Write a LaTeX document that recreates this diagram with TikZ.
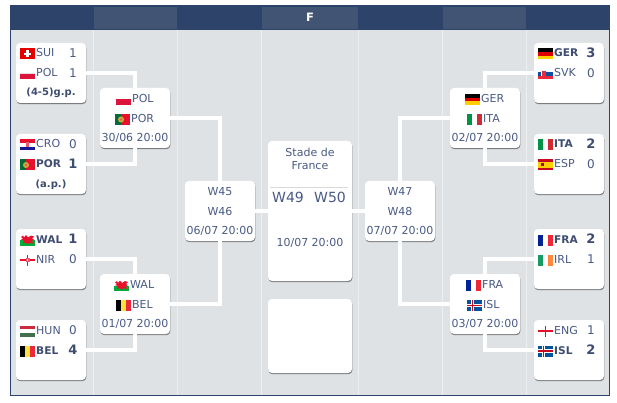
\documentclass[tikz,border=0pt]{standalone}
\usepackage{fontspec}
\setmainfont{DejaVu Sans}
\usetikzlibrary{shadows}
\definecolor{hdark}{HTML}{2E4369}
\definecolor{hlight}{HTML}{415474}
\definecolor{bodybg}{HTML}{DFE2E5}
\definecolor{sepc}{HTML}{EDEFF0}
\definecolor{txtc}{HTML}{4A5A85}
\definecolor{boldc}{HTML}{3F4C72}
\tikzset{
  x=1pt,y=-1pt,
  card/.style={rectangle,fill=white,rounded corners=4pt,inner sep=0pt,outer sep=0pt,
    minimum width=70pt,minimum height=60pt,
    drop shadow={shadow xshift=0.4pt,shadow yshift=-1.2pt,opacity=.45,fill=black}},
  link/.style={draw=white,line width=4.3pt},
  teamtxt/.style={anchor=base west,inner sep=0pt,text=txtc,font=\fontsize{11}{13}\selectfont},
  teambold/.style={anchor=base west,inner sep=0pt,text=boldc,font=\fontsize{10.6}{13}\selectfont\bfseries},
  scoretxt/.style={anchor=base,inner sep=0pt,text=txtc,font=\fontsize{12}{14}\selectfont},
  scorebold/.style={anchor=base,inner sep=0pt,text=boldc,font=\fontsize{13}{14}\selectfont\bfseries},
  infotxt/.style={anchor=base,inner sep=0pt,text=txtc,font=\fontsize{11}{13}\selectfont},
  notetxt/.style={anchor=base,inner sep=0pt,text=boldc,font=\fontsize{10}{13}\selectfont\bfseries},
  bigtxt/.style={anchor=base,inner sep=0pt,text=txtc,font=\fontsize{14}{16}\selectfont},
}
% flags: top-left origin, 15 x 11
\newcommand\tribandH[3]{\fill[#1](0,0)rectangle(15,3.67);\fill[#2](0,3.67)rectangle(15,7.33);\fill[#3](0,7.33)rectangle(15,11);}
\newcommand\tribandV[3]{\fill[#1](0,0)rectangle(5,11);\fill[#2](5,0)rectangle(10,11);\fill[#3](10,0)rectangle(15,11);}
\newcommand\fSUI{\fill[red!90!black](0,0)rectangle(15,11);\fill[white](6.2,2)rectangle(8.8,9);\fill[white](4,4.2)rectangle(11,6.8);}
\newcommand\fPOL{\fill[white](0,0)rectangle(15,5.5);\fill[black!12](0,5)rectangle(15,5.5);\fill[HTMLpol](0,5.5)rectangle(15,11);}
\newcommand\fCRO{\tribandH{HTMLred}{white}{HTMLnavy}\fill[HTMLred!70!white](6,3)rectangle(9,7.5);}
\newcommand\fPOR{\fill[HTMLpg](0,0)rectangle(6,11);\fill[HTMLred](6,0)rectangle(15,11);\fill[HTMLyel!80!black](6,5.5)circle(3);\fill[HTMLred!70!white](6,5.5)circle(1.5);}
\newcommand\fWAL{\fill[white](0,0)rectangle(15,5.5);\fill[HTMLwg](0,5.5)rectangle(15,11);
  \fill[HTMLred](1,2.5)--(3,1)--(4,3)--(6,0.5)--(8,3)--(11,1)--(14,2)--(12,4)--(14,5)--(12,6)--(13,9)--(10,8)--(8,9.5)--(5,8)--(3,9)--(4,6)--(1,5)--(3,4)--cycle;}
\newcommand\fNIR{\fill[white](0,0)rectangle(15,11);\fill[HTMLred](0,4.8)rectangle(15,6.2);\fill[HTMLred](6.8,0)rectangle(8.2,11);\fill[HTMLred!70!white](5.5,3.5)rectangle(9.5,7.5);\fill[white](6.6,4.8)rectangle(8.4,6.2);}
\newcommand\fHUN{\tribandH{HTMLhr}{white}{HTMLhg}}
\newcommand\fBEL{\tribandV{black}{HTMLyel}{HTMLbr}}
\newcommand\fGER{\tribandH{black}{HTMLgr}{HTMLgy}}
\newcommand\fSVK{\tribandH{white}{HTMLsb}{HTMLbr}\fill[white](2.8,2.5)rectangle(8.2,8);\fill[HTMLbr](3.5,3)rectangle(7.5,7.5);}
\newcommand\fITA{\tribandV{HTMLig}{white}{HTMLir}}
\newcommand\fESP{\fill[HTMLer](0,0)rectangle(15,11);\fill[HTMLgy](0,2.75)rectangle(15,8.25);\fill[HTMLer!80!black](3,4)rectangle(6,7);}
\newcommand\fFRA{\tribandV{HTMLfb}{white}{HTMLbr}}
\newcommand\fIRL{\tribandV{HTMLirg}{white}{HTMLiro}}
\newcommand\fENG{\fill[white](0,0)rectangle(15,11);\fill[HTMLred](0,4.6)rectangle(15,6.4);\fill[HTMLred](6.6,0)rectangle(8.4,11);}
\newcommand\fISL{\fill[HTMLib](0,0)rectangle(15,11);\fill[white](0,3.8)rectangle(15,7.2);\fill[white](4,0)rectangle(7.4,11);\fill[HTMLer](0,4.8)rectangle(15,6.2);\fill[HTMLer](5,0)rectangle(6.4,11);}
\definecolor{HTMLpol}{HTML}{DC143C}
\definecolor{HTMLred}{HTML}{E8112D}
\definecolor{HTMLnavy}{HTML}{171796}
\definecolor{HTMLpg}{HTML}{046A38}
\definecolor{HTMLyel}{HTML}{FAE042}
\definecolor{HTMLwg}{HTML}{00AB39}
\definecolor{HTMLhr}{HTML}{CD2A3E}
\definecolor{HTMLhg}{HTML}{436F4D}
\definecolor{HTMLbr}{HTML}{ED2939}
\definecolor{HTMLgr}{HTML}{DD0000}
\definecolor{HTMLgy}{HTML}{FFCE00}
\definecolor{HTMLsb}{HTML}{0B4EA2}
\definecolor{HTMLig}{HTML}{009246}
\definecolor{HTMLir}{HTML}{CE2B37}
\definecolor{HTMLer}{HTML}{C60B1E}
\definecolor{HTMLfb}{HTML}{002395}
\definecolor{HTMLirg}{HTML}{169B62}
\definecolor{HTMLiro}{HTML}{FF883E}
\definecolor{HTMLib}{HTML}{02529C}
% #1 flag macro, #2 flag x, #3 flag y
\newcommand\putflag[3]{\begin{scope}[shift={(#2,#3)}]#1\end{scope}}
% entrant row: #1 node name, #2 flag, #3 box left, #4 row top (box top or +20), #5 style, #6 label, #7 score style, #8 score
\newcommand\entrant[8]{\putflag{#2}{#3+4}{#4+5.5}
  \node[#5] (#1) at (#3+20,#4+14) {#6};
  \node[#7] (#1s) at (#3+57,#4+14.5) {#8};}
% round-two row: #1 node, #2 flag, #3 flag x, #4 row top, #5 label
\newcommand\qrow[5]{\putflag{#2}{#3}{#4+6}
  \node[teamtxt] (#1) at (#3+16,#4+14.5) {#5};}
\begin{document}
\begin{tikzpicture}
\useasboundingbox (0,0) rectangle (617,403);
\fill[white] (0,0) rectangle (617,403);
\fill[bodybg] (10.5,6) rectangle (609.5,395);
\fill[hdark] (10.5,6) rectangle (609.5,30);
\foreach \a/\b in {94/177,262/358,443/526}{\fill[hlight] (\a,7) rectangle (\b,29);}
\foreach \a in {93.5,177.5,261.5,358.5,442.5,526.5}{\draw[sepc,line width=.8pt] (\a,30) -- (\a,395);}
\draw[hdark,line width=1pt] (10.5,6) rectangle (609.5,395);
\node[inner sep=0pt,text=white,font=\fontsize{11.5}{13}\selectfont\bfseries] (hdr) at (310,17) {F};

% cards
\node[card] (m1) at (51,73) {};
\node[card] (m2) at (51,164) {};
\node[card] (m3) at (51,259) {};
\node[card] (m4) at (51,350) {};
\node[card] (q1) at (135,118) {};
\node[card] (q2) at (135,304) {};
\node[card] (s1) at (220,211) {};
\node[card,minimum width=84pt,minimum height=140pt] (fin) at (310,211) {};
\node[card,minimum width=84pt,minimum height=74pt] (third) at (310,336) {};
\node[card] (s2) at (400,211) {};
\node[card] (q3) at (485,118) {};
\node[card] (q4) at (485,304) {};
\node[card] (m5) at (569,73) {};
\node[card] (m6) at (569,164) {};
\node[card] (m7) at (569,259) {};
\node[card] (m8) at (569,350) {};

% connectors
\draw[link] (m1.east) -| (q1.north);
\draw[link] (m2.east) -| (q1.south);
\draw[link] (m3.east) -| (q2.north);
\draw[link] (m4.east) -| (q2.south);
\draw[link] (q1.east) -| (s1.north);
\draw[link] (q2.east) -| (s1.south);
\draw[link] (s1.east) -- (fin.west);
\draw[link] (s2.west) -- (fin.east);
\draw[link] (q3.west) -| (s2.north);
\draw[link] (q4.west) -| (s2.south);
\draw[link] (m5.west) -| (q3.north);
\draw[link] (m6.west) -| (q3.south);
\draw[link] (m7.west) -| (q4.north);
\draw[link] (m8.west) -| (q4.south);

% left round one
\entrant{sui}{\fSUI}{16}{43}{teamtxt}{SUI}{scoretxt}{1}
\entrant{pol}{\fPOL}{16}{63}{teamtxt}{POL}{scoretxt}{1}
\node[notetxt] (n1) at (51,96) {(4-5)g.p.};
\entrant{cro}{\fCRO}{16}{134}{teamtxt}{CRO}{scoretxt}{0}
\entrant{por}{\fPOR}{16}{154}{teambold}{POR}{scorebold}{1}
\node[notetxt] (n2) at (51,187) {(a.p.)};
\entrant{wal}{\fWAL}{16}{229}{teambold}{WAL}{scorebold}{1}
\entrant{nir}{\fNIR}{16}{249}{teamtxt}{NIR}{scoretxt}{0}
\entrant{hun}{\fHUN}{16}{320}{teamtxt}{HUN}{scoretxt}{0}
\entrant{bel}{\fBEL}{16}{340}{teambold}{BEL}{scorebold}{4}
% right round one
\entrant{ger}{\fGER}{534}{43}{teambold}{GER}{scorebold}{3}
\entrant{svk}{\fSVK}{534}{63}{teamtxt}{SVK}{scoretxt}{0}
\entrant{ita}{\fITA}{534}{134}{teambold}{ITA}{scorebold}{2}
\entrant{esp}{\fESP}{534}{154}{teamtxt}{ESP}{scoretxt}{0}
\entrant{fra}{\fFRA}{534}{229}{teambold}{FRA}{scorebold}{2}
\entrant{irl}{\fIRL}{534}{249}{teamtxt}{IRL}{scoretxt}{1}
\entrant{eng}{\fENG}{534}{320}{teamtxt}{ENG}{scoretxt}{1}
\entrant{isl}{\fISL}{534}{340}{teambold}{ISL}{scorebold}{2}
% second round
\qrow{qa}{\fPOL}{116}{88}{POL}
\qrow{qb}{\fPOR}{115}{108}{POR}
\node[infotxt] (qd1) at (135,141.5) {30/06 20:00};
\qrow{qc}{\fWAL}{114}{274}{WAL}
\qrow{qd}{\fBEL}{116}{294}{BEL}
\node[infotxt] (qd2) at (135,327.5) {01/07 20:00};
\qrow{qe}{\fGER}{465}{88}{GER}
\qrow{qf}{\fITA}{467}{108}{ITA}
\node[infotxt] (qd3) at (485,141.5) {02/07 20:00};
\qrow{qg}{\fFRA}{466}{274}{FRA}
\qrow{qh}{\fISL}{467}{294}{ISL}
\node[infotxt] (qd4) at (485,327.5) {03/07 20:00};
% semis
\node[infotxt] (w45) at (220,195) {W45};
\node[infotxt] (w46) at (220,215) {W46};
\node[infotxt] (sd1) at (220,234.5) {06/07 20:00};
\node[infotxt] (w47) at (400,195) {W47};
\node[infotxt] (w48) at (400,215) {W48};
\node[infotxt] (sd2) at (400,234.5) {07/07 20:00};
% final
\node[infotxt] (st1) at (310,157) {Stade de};
\node[infotxt] (st2) at (310,169.5) {France};
\draw[black!15,line width=.8pt] (270,187) -- (348,187);
\node[bigtxt] (w49) at (288,202) {W49};
\node[bigtxt] (w50) at (330,202) {W50};
\node[infotxt] (fd) at (310,246) {10/07 20:00};
\end{tikzpicture}
\end{document}
